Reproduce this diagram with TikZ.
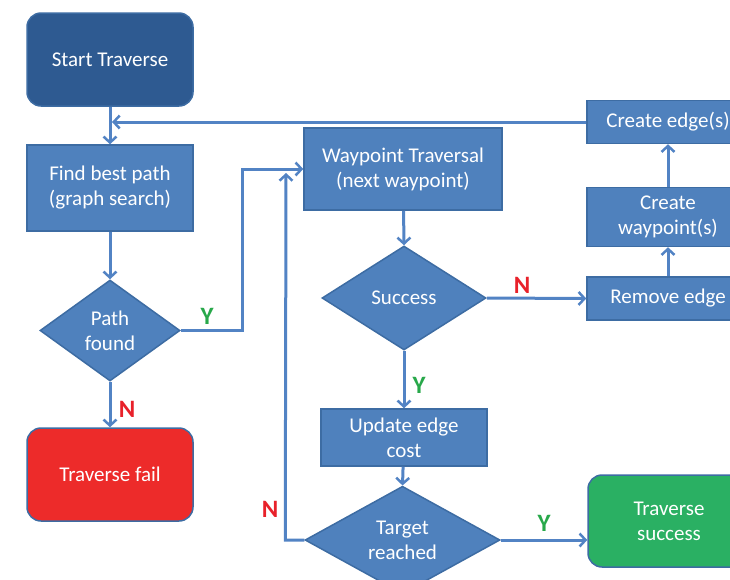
\documentclass[tikz,border=0pt]{standalone}
\usepackage{fontspec}
\setmainfont{Carlito}
\usetikzlibrary{shapes.geometric,arrows.meta}
\definecolor{boxblue}{HTML}{4F81BD}
\definecolor{edgeblue}{HTML}{3D6CA3}
\definecolor{darkblue}{HTML}{2E5A91}
\definecolor{failred}{HTML}{ED2B2A}
\definecolor{okgreen}{HTML}{2AB063}
\definecolor{lineblue}{HTML}{5283C4}
\definecolor{ygreen}{HTML}{28A84A}
\definecolor{nred}{HTML}{E8212A}
\begin{document}
\begin{tikzpicture}[x=1pt,y=-1pt,
 box/.style={draw=edgeblue, line width=1.5pt, fill=boxblue, text=white, font=\fontsize{21}{25}\selectfont, align=center, inner sep=0pt},
 rbox/.style={box, rounded corners=14pt},
 dia/.style={box, diamond},
 conn/.style={draw=lineblue, line width=3pt, -{Straight Barb[length=6pt,width=13pt,line width=2.5pt]}},
 yl/.style={text=ygreen, font=\bfseries\fontsize{25}{25}\selectfont},
 nl/.style={text=nred, font=\bfseries\fontsize{25}{25}\selectfont}]
\useasboundingbox (0,0) rectangle (730,579);

\node[rbox, fill=darkblue, minimum width=166pt, minimum height=93pt] (start) at (110,59.5) {Start Traverse};
\node[box, minimum width=166pt, minimum height=86pt] (find) at (110,188) {Find best path\\(graph search)};
\node[dia, minimum width=140pt, minimum height=101pt] (pf) at (110,330.5) {Path\\found};
\node[rbox, fill=failred, minimum width=166pt, minimum height=93pt] (fail) at (110,474.5) {Traverse fail};
\node[box, minimum width=198pt, minimum height=82pt] (wp) at (403,169) {Waypoint Traversal\\(next waypoint)};
\node[dia, minimum width=164pt, minimum height=104pt] (succ) at (404,298) {Success};
\node[box, minimum width=166pt, minimum height=57pt] (upd) at (404,437.5) {Update edge\\cost};
\node[dia, minimum width=195pt, minimum height=92pt] (tr) at (402.5,540) {Target\\reached};
\node[rbox, fill=okgreen, minimum width=162pt, minimum height=92pt] (ok) at (669,521) {Traverse\\success};
\node[box, minimum width=162pt, minimum height=43pt] (ce) at (668,122) {Create edge(s)};
\node[box, minimum width=162pt, minimum height=59pt] (cw) at (668,217) {Create\\waypoint(s)};
\node[box, minimum width=162pt, minimum height=43pt] (re) at (668,298.5) {Remove edge};

\coordinate (j1) at (112,122);
\coordinate (j2) at (286,173);

\draw[conn] (start) -- (find);
\draw[conn] (ce.west) -- (j1);
\draw[conn] (find) -- (pf.north);
\draw[conn] (pf.east) -- ++(62,0) |- (wp.west);
\draw[conn] (pf.south) -- (fail.north);
\draw[conn] (wp) -- (succ.north);
\draw[conn] (succ.east) -- (re.west);
\draw[conn] (succ.south) -- (upd.north);
\draw[conn] (upd) -- (tr.north);
\draw[conn] (tr.east) -- (tr.east -| ok.west);
\draw[conn] (tr.west) -- ++(-19,0) -- (j2);
\draw[conn] (re) -- (cw);
\draw[conn] (cw) -- (ce);

\node[yl] (y1) at (207,316) {Y};
\node[nl] (n1) at (127,409) {N};
\node[nl] (n2) at (522,285) {N};
\node[yl] (y2) at (419,385) {Y};
\node[yl] (y3) at (544,523) {Y};
\node[nl] (n3) at (270,509) {N};
\end{tikzpicture}
\end{document}
